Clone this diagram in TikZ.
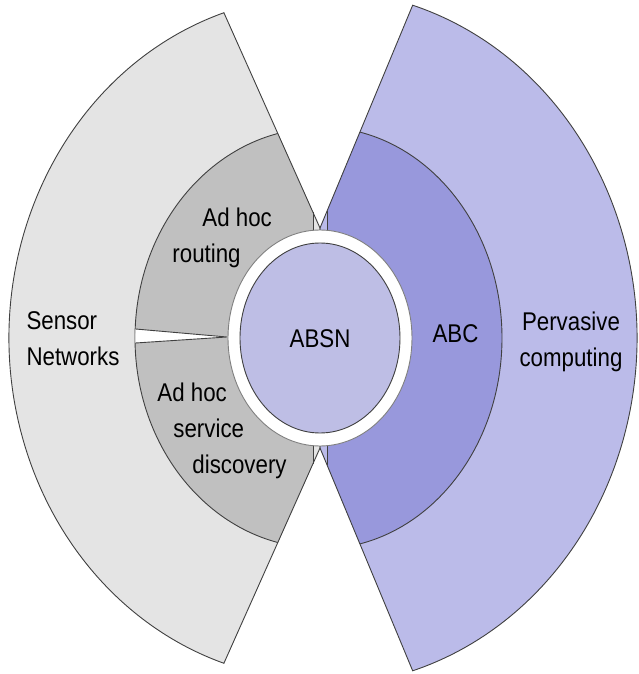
\documentclass[tikz,border=0pt]{standalone}
\usepackage{fontspec}
\setmainfont{Liberation Sans}

\definecolor{sensorgray}{HTML}{E4E4E4}
\definecolor{adhocgray}{HTML}{C0C0C0}
\definecolor{pervblue}{HTML}{BBBBE9}
\definecolor{abcblue}{HTML}{9898DC}
\definecolor{corefill}{HTML}{BEBEE5}
\definecolor{edgegray}{HTML}{404040}

% the two big wedges, pinched at the top and bottom of the ring
\newcommand{\sensorwedge}{(0,110) -- (108:311 and 342) arc[start angle=108, end angle=252, x radius=311, y radius=342] -- (0,-110) -- cycle}
\newcommand{\pervasivewedge}{(0,110) -- (73:317 and 348) arc[start angle=73, end angle=-73, x radius=317, y radius=348] -- (0,-110) -- cycle}

\tikzset{lbl/.style={font=\fontsize{11.15}{15.6}\selectfont, yscale=1.15, transform shape, inner sep=0pt}}

\begin{document}
\begin{tikzpicture}[x=0.5pt, y=0.5pt, line width=0.45pt]
\useasboundingbox (-320,-336) rectangle (318,338);

\fill[sensorgray] \sensorwedge;
\fill[pervblue] \pervasivewedge;

% inner bands, cut off by the wedges
\begin{scope}
  \clip \sensorwedge;
  \clip (-7,-220) rectangle (-200,220);
  \filldraw[fill=adhocgray, draw=edgegray] (0,0) ellipse [x radius=185, y radius=210];
\end{scope}
\begin{scope}
  \clip \pervasivewedge;
  \clip (7,-220) rectangle (200,220);
  \filldraw[fill=abcblue, draw=edgegray] (0,0) ellipse [x radius=182, y radius=211];
\end{scope}
\draw[edgegray] (-7,126) -- (-7,-126);
\draw[edgegray] (7,127) -- (7,-127);

\draw[edgegray] \sensorwedge;
\draw[edgegray] \pervasivewedge;

% gap between routing and service discovery
\draw[edgegray, fill=white] (-184.5,9) -- (-93,1) -- (-184.5,-5);

% ring and core
\filldraw[fill=white, draw=gray] (0,0) ellipse [x radius=92, y radius=108];
\filldraw[fill=corefill, draw=edgegray] (0,0) ellipse [x radius=80, y radius=95];

\node[lbl, align=left] (sensor) at (-247,-1) {Sensor\\Networks};
\node[lbl, align=left, anchor=west] (routing) at (-148,100) {\hspace*{15pt}Ad hoc\\routing};
\node[lbl, align=left, anchor=west] (discovery) at (-163,-93) {Ad hoc\\\hspace*{8pt}service\\\hspace*{17.5pt}discovery};
\node[lbl] (absn) at (0,-1) {ABSN};
\node[lbl] (abc) at (135.5,4) {ABC};
\node[lbl, align=center] (pervasive) at (251,-3.5) {Pervasive\\computing};

\end{tikzpicture}
\end{document}
